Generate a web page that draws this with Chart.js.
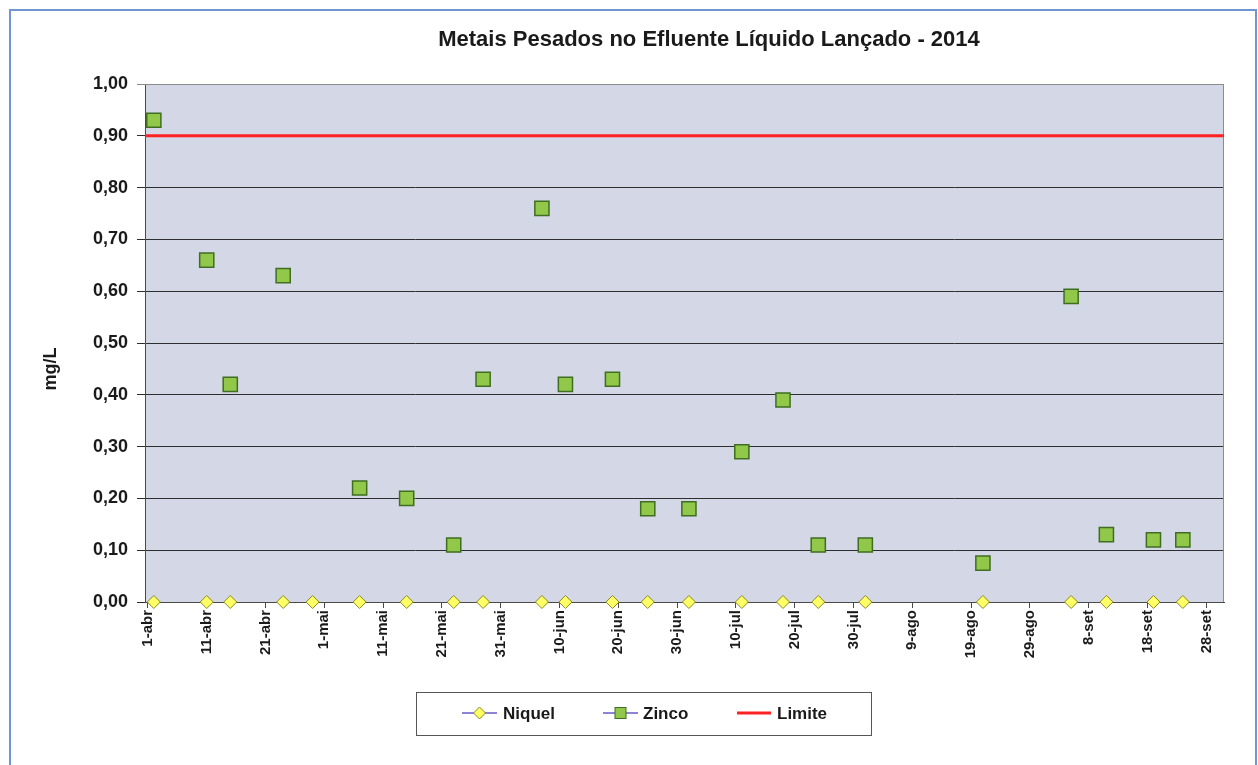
<!DOCTYPE html>
<html>
<head>
<meta charset="utf-8">
<title>Metais Pesados no Efluente Líquido Lançado - 2014</title>
<script src="https://cdn.jsdelivr.net/npm/chart.js@4.4.1/dist/chart.umd.min.js"></script>
<style>
    html, body { margin: 0; padding: 0; background: #ffffff; }
    #wrap { position: absolute; left: 0; top: 0; width: 1258px; height: 765px; }
</style>
</head>
<body>
<div id="wrap"><canvas id="effluentChart" width="1258" height="765"></canvas></div>
<script>
// Sampling dates (2014) and measured values in mg/L
const sampleDates = [
    '2014-04-02', '2014-04-11', '2014-04-15', '2014-04-24', '2014-04-29',
    '2014-05-07', '2014-05-15', '2014-05-23', '2014-05-28', '2014-06-07',
    '2014-06-11', '2014-06-19', '2014-06-25', '2014-07-02', '2014-07-11',
    '2014-07-18', '2014-07-24', '2014-08-01', '2014-08-21', '2014-09-05',
    '2014-09-11', '2014-09-19', '2014-09-24'
];
const niquelValues = [
    0, 0, 0, 0, 0, 0, 0, 0, 0, 0, 0, 0,
    0, 0, 0, 0, 0, 0, 0, 0, 0, 0, 0
];
const zincoValues = [
    0.93, 0.66, 0.42, 0.63, null, 0.22, 0.20, 0.11, 0.43, 0.76, 0.42, 0.43,
    0.18, 0.18, 0.29, 0.39, 0.11, 0.11, 0.075, 0.59, 0.13, 0.12, 0.12
];
const limiteValue = 0.90;

// Axis: days counted from 1-abr, tick every 10 days
const axisStart = '2014-04-01';
const axisEnd = '2014-10-01';
const xTickLabels = [
    '1-abr', '11-abr', '21-abr', '1-mai', '11-mai', '21-mai', '31-mai',
    '10-jun', '20-jun', '30-jun', '10-jul', '20-jul', '30-jul',
    '9-ago', '19-ago', '29-ago', '8-set', '18-set', '28-set'
];

const FONT = '"Liberation Sans", Arial, sans-serif';

function dayOf(iso) {
    const p = iso.split('-').map(Number);
    const s = axisStart.split('-').map(Number);
    return (Date.UTC(p[0], p[1] - 1, p[2]) - Date.UTC(s[0], s[1] - 1, s[2])) / 86400000;
}

function toPoints(values) {
    const pts = [];
    values.forEach((v, i) => {
        if (v !== null) pts.push({ x: dayOf(sampleDates[i]), y: v });
    });
    return pts;
}

// Frame, plot background, titles and the boxed legend
const decorPlugin = {
    id: 'decor',
    beforeDraw(chart) {
        const ctx = chart.ctx;
        const a = chart.chartArea;
        ctx.save();
        ctx.fillStyle = '#ffffff';
        ctx.fillRect(0, 0, chart.width, chart.height);
        ctx.strokeStyle = '#6f95d2';
        ctx.lineWidth = 2;
        ctx.strokeRect(10, 10, 1246, 800);
        ctx.fillStyle = 'rgb(212,215,230)';
        ctx.fillRect(a.left, a.top, a.right - a.left, a.bottom - a.top);
        ctx.restore();
    },
    beforeDatasetsDraw(chart) {
        const ctx = chart.ctx;
        const a = chart.chartArea;
        ctx.save();
        ctx.strokeStyle = '#8c8c8c';
        ctx.lineWidth = 1;
        ctx.beginPath();
        ctx.moveTo(a.left, a.top + 0.5);
        ctx.lineTo(a.right - 0.5, a.top + 0.5);
        ctx.lineTo(a.right - 0.5, a.bottom);
        ctx.stroke();
        ctx.restore();
    },
    afterDraw(chart) {
        const ctx = chart.ctx;
        ctx.save();
        ctx.fillStyle = '#1a1a1a';

        // chart title
        ctx.font = 'bold 22px ' + FONT;
        ctx.textAlign = 'center';
        ctx.textBaseline = 'middle';
        ctx.fillText('Metais Pesados no Efluente Líquido Lançado - 2014', 709, 40);

        // y axis title
        ctx.save();
        ctx.translate(51, 369);
        ctx.rotate(-Math.PI / 2);
        ctx.font = 'bold 18px ' + FONT;
        ctx.fillText('mg/L', 0, 0);
        ctx.restore();

        // legend box
        ctx.strokeStyle = '#555555';
        ctx.lineWidth = 1;
        ctx.strokeRect(416.5, 692.5, 455, 43);
        const ly = 713;
        ctx.font = 'bold 17px ' + FONT;
        ctx.textAlign = 'left';

        ctx.strokeStyle = '#6a5acd';
        ctx.lineWidth = 1.5;
        ctx.beginPath(); ctx.moveTo(462, ly); ctx.lineTo(497, ly); ctx.stroke();
        ctx.fillStyle = '#ffff66';
        ctx.strokeStyle = '#8a8a1e';
        ctx.lineWidth = 1;
        ctx.beginPath();
        ctx.moveTo(479.5, ly - 6); ctx.lineTo(485.5, ly); ctx.lineTo(479.5, ly + 6); ctx.lineTo(473.5, ly);
        ctx.closePath(); ctx.fill(); ctx.stroke();
        ctx.fillStyle = '#1a1a1a';
        ctx.fillText('Niquel', 503, ly + 1);

        ctx.strokeStyle = '#6a5acd';
        ctx.lineWidth = 1.5;
        ctx.beginPath(); ctx.moveTo(603, ly); ctx.lineTo(638, ly); ctx.stroke();
        ctx.fillStyle = '#92c84a';
        ctx.strokeStyle = '#3f6e22';
        ctx.lineWidth = 1;
        ctx.fillRect(615, ly - 5.5, 11, 11);
        ctx.strokeRect(615, ly - 5.5, 11, 11);
        ctx.fillStyle = '#1a1a1a';
        ctx.fillText('Zinco', 643, ly + 1);

        ctx.strokeStyle = '#ff2222';
        ctx.lineWidth = 3;
        ctx.beginPath(); ctx.moveTo(737, ly); ctx.lineTo(771, ly); ctx.stroke();
        ctx.fillText('Limite', 777, ly + 1);
        ctx.restore();
    }
};

const chart = new Chart(document.getElementById('effluentChart').getContext('2d'), {
    data: {
        datasets: [
            {
                type: 'line',
                label: 'Limite',
                data: [{ x: -0.5, y: limiteValue }, { x: dayOf(axisEnd), y: limiteValue }],
                borderColor: '#ff2222',
                borderWidth: 3,
                pointRadius: 0,
                order: 3
            },
            {
                type: 'scatter',
                label: 'Niquel',
                data: toPoints(niquelValues),
                pointStyle: 'rectRot',
                pointRadius: 6.5,
                pointBackgroundColor: '#ffff66',
                pointBorderColor: '#8a8a1e',
                pointBorderWidth: 1,
                clip: false,
                order: 2
            },
            {
                type: 'scatter',
                label: 'Zinco',
                data: toPoints(zincoValues),
                pointStyle: 'rect',
                pointRadius: 10,
                pointBackgroundColor: '#92c84a',
                pointBorderColor: '#3f6e22',
                pointBorderWidth: 1.5,
                clip: false,
                order: 1
            }
        ]
    },
    options: {
        responsive: false,
        animation: false,
        layout: { padding: { left: 12, right: 34, top: 84, bottom: 60 } },
        plugins: {
            legend: { display: false },
            title: { display: false },
            tooltip: { enabled: false }
        },
        scales: {
            x: {
                type: 'linear',
                min: -0.5,
                max: dayOf(axisEnd),
                afterFit(scale) { scale.height = 103; },
                border: { color: '#4a4a4a', width: 1 },
                grid: { drawOnChartArea: false, drawTicks: true, tickLength: 6, color: '#4a4a4a' },
                ticks: {
                    stepSize: 10,
                    includeBounds: false,
                    autoSkip: false,
                    maxRotation: 90,
                    minRotation: 90,
                    padding: 2,
                    color: '#1a1a1a',
                    font: { family: FONT, size: 15, weight: 'bold' },
                    callback: (value) => xTickLabels[Math.round(value / 10)]
                }
            },
            y: {
                min: 0,
                max: 1,
                afterFit(scale) { scale.width = 133; },
                border: { color: '#4a4a4a', width: 1 },
                grid: {
                    tickLength: 8,
                    color: (c) => (c.tick && c.tick.value >= 0.999) ? '#8c8c8c' : '#2e2e2e',
                    lineWidth: 1
                },
                ticks: {
                    stepSize: 0.1,
                    padding: 9,
                    color: '#1a1a1a',
                    font: { family: FONT, size: 18, weight: 'bold' },
                    callback: (value) => value.toFixed(2).replace('.', ',')
                }
            }
        }
    },
    plugins: [decorPlugin]
});
</script>
</body>
</html>
